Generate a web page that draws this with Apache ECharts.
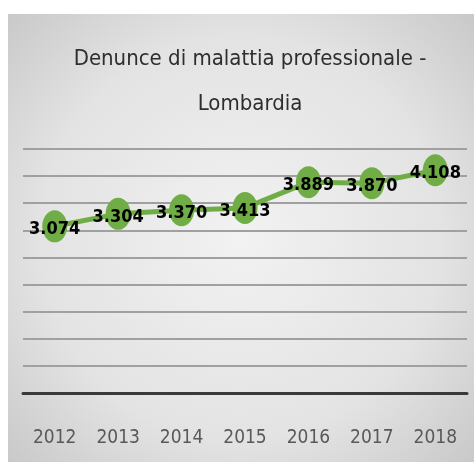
<!DOCTYPE html>
<html><head><meta charset="utf-8">
<script src="https://cdn.jsdelivr.net/npm/echarts@6/dist/echarts.min.js"></script>
<style>html,body{margin:0;padding:0;background:#fff}#c{width:474px;height:462px}</style>
</head><body><div id="c"></div>
<script>
var years = ['2012','2013','2014','2015','2016','2017','2018'];
var values = [3074, 3304, 3370, 3413, 3889, 3870, 4108];
var yMin = 0, yMax = 4500, yStep = 500;
var titleText = 'Denunce di malattia professionale -\nLombardia';
var FONT = '"DejaVu Sans Condensed", "Roboto Condensed", Roboto, sans-serif';

var chart = echarts.init(document.getElementById('c'), null, {renderer:'canvas'});
var fmt = function(v){ var s = String(v); return s.slice(0, s.length-3) + '.' + s.slice(-3); };
chart.setOption({
  animation:false,
  graphic:[{
    type:'rect', z:-10, silent:true,
    shape:{x:8, y:14, width:466, height:448},
    style:{fill:new echarts.graphic.RadialGradient(0.5,0.5,0.75,[
      {offset:0,color:'#f2f2f2'},{offset:0.6,color:'#e3e3e3'},{offset:1,color:'#c6c6c6'}])}
  }],
  title:{
    text:titleText, left:245, textAlign:'center', top:32,
    textStyle:{fontFamily:FONT, fontSize:22, fontWeight:'normal', color:'#2e2e2e', lineHeight:45}
  },
  grid:{left:23, right:7, top:149, bottom:69},
  xAxis:{
    type:'category', data:years, boundaryGap:true,
    axisLine:{lineStyle:{color:'#3a3a3a', width:3}},
    axisTick:{show:false},
    axisLabel:{interval:0, fontFamily:FONT, fontSize:19, color:'#595959', margin:36}
  },
  yAxis:{
    type:'value', min:yMin, max:yMax, interval:yStep,
    axisLabel:{show:false}, axisLine:{show:false}, axisTick:{show:false},
    splitLine:{lineStyle:{color:'#a0a0a0', width:2}}
  },
  series:[{
    type:'line', data:values,
    symbol:'circle', symbolSize:[25,32],
    lineStyle:{color:'#70AD47', width:5},
    itemStyle:{color:'#70AD47'},
    label:{show:true, position:'inside', offset:[0,3], formatter:function(p){return fmt(p.value);},
      fontFamily:FONT, fontSize:18, fontWeight:'bold', color:'#000'}
  }]
});
</script></body></html>
